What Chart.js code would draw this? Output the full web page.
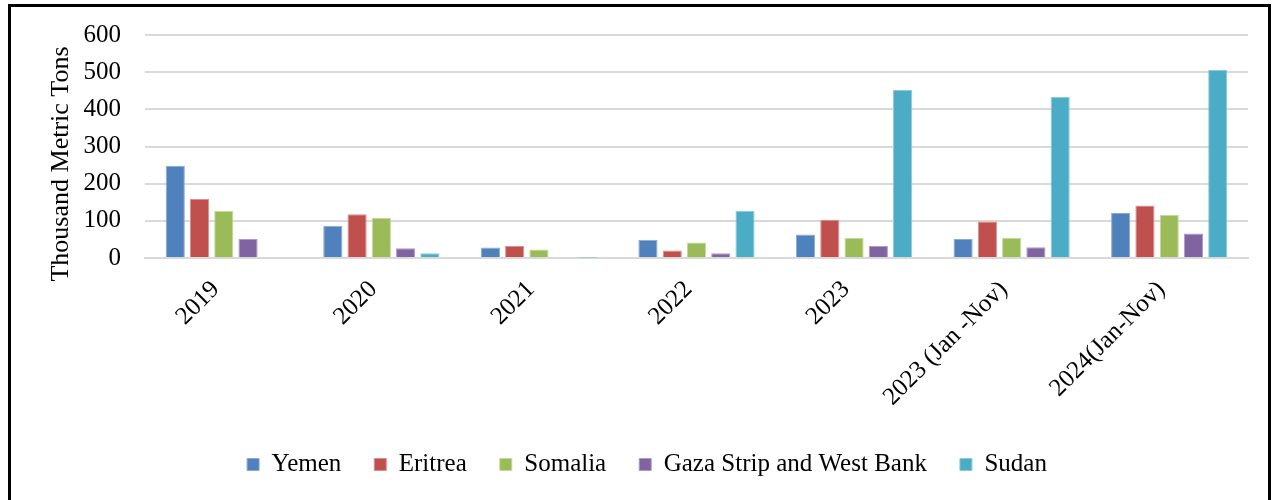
<!DOCTYPE html>
<html>
<head>
    <title>Exports by destination</title>
    <script src="https://cdn.jsdelivr.net/npm/chart.js"></script>
    <style>
        html, body { margin: 0; padding: 0; background: #fff; overflow: hidden; }
        .frame {
            position: absolute;
            left: 8px;
            top: 4px;
            width: 1263px;
            height: 520px;
            border: 3px solid #000;
            box-sizing: border-box;
        }
        .chart-container {
            position: absolute;
            left: 0;
            top: 0;
            width: 1278px;
            height: 500px;
        }
    </style>
</head>
<body>
    <div class="frame"></div>
    <div class="chart-container">
        <canvas id="exportChart" width="1278" height="500"></canvas>
    </div>

    <script>
        // Données (milliers de tonnes)
        const periods = ['2019', '2020', '2021', '2022', '2023', '2023 (Jan -Nov)', '2024(Jan-Nov)'];
        const yemen   = [248, 87, 28, 49, 63, 51, 121];
        const eritrea = [159, 118, 32, 20, 103, 98, 141];
        const somalia = [127, 108, 23, 42, 54, 54, 116];
        const gaza    = [51, 26, 3, 13, 32, 29, 66];
        const sudan   = [null, 13, 1, 127, 452, 433, 506];
        const yTicks  = [0, 100, 200, 300, 400, 500, 600];
        const yTitle  = 'Thousand Metric Tons';

        const serif = "'Liberation Serif', 'Times New Roman', serif";

        function series(label, data, fill, edge) {
            return {
                label: label,
                data: data,
                backgroundColor: fill,
                borderColor: edge,
                borderWidth: 1,
                categoryPercentage: 0.77,
                barPercentage: 0.79
            };
        }

        // titre de l'axe Y, un peu plus bas que le centre (comme l'original)
        const axisTitle = {
            id: 'axisTitle',
            afterDraw(chart) {
                const c = chart.ctx;
                c.save();
                c.translate(61, 164);
                c.rotate(-Math.PI / 2);
                c.font = '26px ' + serif;
                c.fillStyle = '#000';
                c.textAlign = 'center';
                c.textBaseline = 'middle';
                c.fillText(yTitle, 0, 0);
                c.restore();
            }
        };

        const ctx = document.getElementById('exportChart').getContext('2d');
        new Chart(ctx, {
            type: 'bar',
            data: {
                labels: periods,
                datasets: [
                    series('Yemen', yemen, '#4F81BD', '#8AAAD6'),
                    series('Eritrea', eritrea, '#C0504D', '#DB8E8C'),
                    series('Somalia', somalia, '#9BBB59', '#C4D99B'),
                    series('Gaza Strip and West Bank', gaza, '#8064A2', '#AE9BC6'),
                    series('Sudan', sudan, '#4BACC6', '#8DCBDC')
                ]
            },
            plugins: [axisTitle],
            options: {
                responsive: false,
                animation: false,
                layout: { padding: { left: 46, right: 30, top: 35, bottom: 13 } },
                plugins: {
                    tooltip: { enabled: false },
                    legend: {
                        position: 'bottom',
                        labels: {
                            color: '#000',
                            font: { family: serif, size: 25 },
                            boxWidth: 12,
                            boxHeight: 12,
                            padding: 33
                        }
                    }
                },
                scales: {
                    x: {
                        grid: { display: false },
                        border: { color: '#d9d9d9', width: 2 },
                        ticks: {
                            color: '#000',
                            font: { family: serif, size: 25 },
                            minRotation: 45,
                            maxRotation: 45,
                            autoSkip: false,
                            padding: 9,
                            labelOffset: -8
                        },
                        afterFit: s => { s.height = 161; }
                    },
                    y: {
                        min: 0,
                        max: 600,
                        afterBuildTicks: s => { s.ticks = yTicks.map(v => ({ value: v })); },
                        grid: { color: '#d9d9d9', lineWidth: 2, drawTicks: false },
                        border: { display: false },
                        ticks: {
                            color: '#000',
                            font: { family: serif, size: 25 },
                            padding: 24
                        },
                        afterFit: s => {
                            s.width = 99;
                            s.paddingTop = 0;
                            s.paddingBottom = 0;
                        }
                    }
                }
            }
        });
    </script>
</body>
</html>
